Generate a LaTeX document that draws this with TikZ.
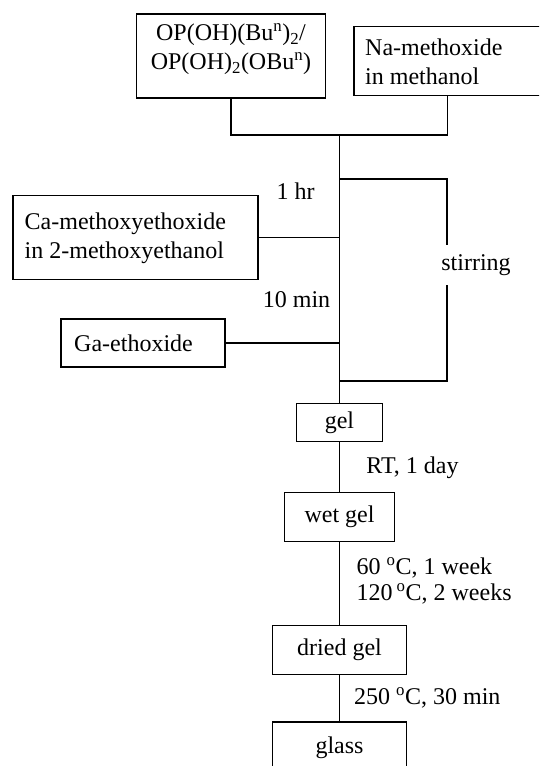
\documentclass[tikz,border=0pt]{standalone}
\usepackage{fontspec}
\setmainfont{Liberation Serif}
\begin{document}
\begin{tikzpicture}[x=1pt,y=-1pt,
  box/.style={draw, line width=1.2pt, rectangle, inner sep=0pt, anchor=center},
  lbl/.style={inner sep=0pt, anchor=center},
  lline/.style={line width=1.2pt}]
\fontsize{24}{29}\selectfont
\useasboundingbox (0,0) rectangle (539,766);
\clip (0,0) rectangle (539,766);
% boxes
\node[box, minimum width=189pt, minimum height=84pt] (op) at (231,56) {};
\node[lbl, align=center] (opt) at (231,49) {OP(OH)(Bu\textsuperscript{n})\textsubscript{2}/\\OP(OH)\textsubscript{2}(OBu\textsuperscript{n})};
\node[box, minimum width=187pt, minimum height=69pt] (na) at (447.5,61) {};
\node[lbl, align=left, anchor=west] (nat) at (365,62) {Na-methoxide\\in methanol};
\node[box, minimum width=245pt, minimum height=84pt] (ca) at (135.5,237.6) {};
\node[lbl, align=left, anchor=west] (cat) at (24.5,238) {Ca-methoxyethoxide\\in 2-methoxyethanol};
\node[box, minimum width=164pt, minimum height=48pt] (ga) at (143,343) {};
\node[lbl, anchor=west] (gat) at (74,343) {Ga-ethoxide};
\node[box, minimum width=86pt, minimum height=38pt] (gel) at (339.5,422.6) {gel};
\node[box, minimum width=110pt, minimum height=49pt] (wet) at (339.5,517.2) {wet gel};
\node[box, minimum width=134pt, minimum height=48.5pt] (dried) at (339.5,650) {dried gel};
\node[box, minimum width=134pt, minimum height=52pt] (glass) at (339.5,748) {glass};
% labels
\node[lbl] (hr) at (295.5,191) {1 hr};
\node[lbl] (min) at (296.5,299.5) {10 min};
\node[lbl, minimum height=40pt] (stir) at (476,265) {stirring};
\node[lbl] (rt) at (412.5,468) {RT, 1 day};
\node[lbl, anchor=west, align=left, font=\fontsize{24}{26.3}\selectfont] (dry) at (356.5,581) {60 \textsuperscript{o}C, 1 week\\120\,\textsuperscript{o}C, 2 weeks};
\node[lbl, anchor=west] (fire) at (354,698) {250 \textsuperscript{o}C, 30 min};
% connectors
\coordinate (j1) at (339.5,135);
\coordinate (s1) at (339.5,179);
\coordinate (s2) at (339.5,381);
\coordinate (sa) at (447,179);
\coordinate (sb) at (447,245);
\coordinate (sc) at (447,285);
\coordinate (sd) at (447,381);
\draw[lline] (op.south) |- (j1) -| (na.south);
\draw[lline] (j1) -- (gel.north);
\draw[lline] (ca.east) -- (ca.east -| j1);
\draw[lline] (ga.east) -- (ga.east -| j1);
\draw[lline] (s1) -- (sa) -- (sb);
\draw[lline] (sc) -- (sd) -- (s2);
\draw[lline] (gel.south) -- (wet.north);
\draw[lline] (wet.south) -- (dried.north);
\draw[lline] (dried.south) -- (glass.north);
\end{tikzpicture}
\end{document}
